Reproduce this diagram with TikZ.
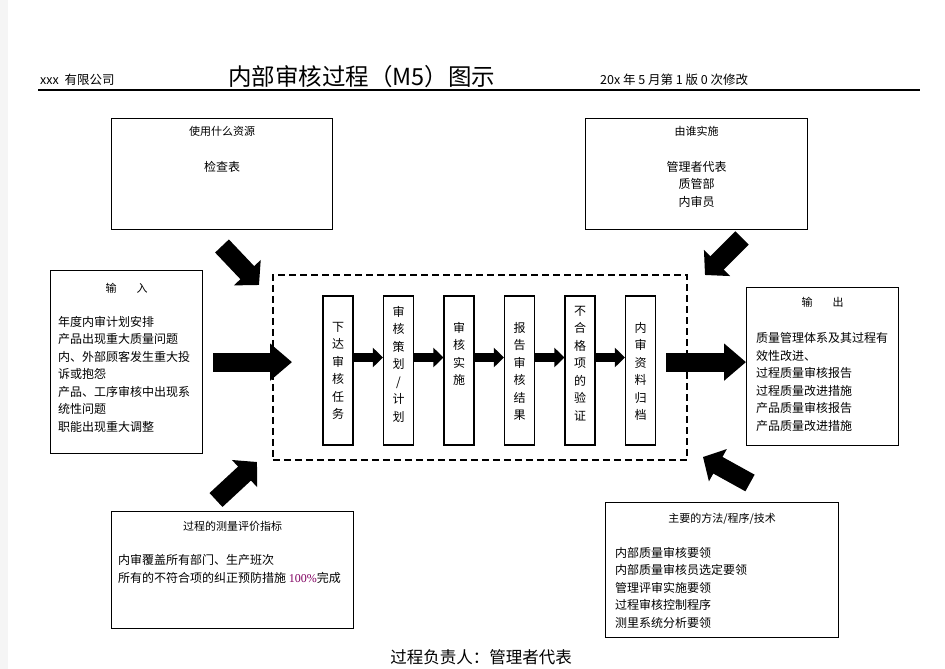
\documentclass[tikz,border=0pt]{standalone}
\usepackage{fontspec}
\setmainfont{Noto Sans CJK SC}
\newfontfamily\serifnum{Liberation Serif}
\usetikzlibrary{positioning,arrows.meta}
\definecolor{pct}{RGB}{128,0,96}
\newcommand{\bodyfont}{\fontsize{12}{17.5}\selectfont}
\newcommand{\headfont}{\fontsize{11}{13}\selectfont}

\begin{document}
\begin{tikzpicture}[x=1pt,y=-1pt,
    box/.style={draw,line width=1.2pt,inner sep=0pt,anchor=north west},
    proc/.style={draw,line width=1.2pt,inner sep=0pt,minimum width=30pt,minimum height=149pt},
    head/.style={font=\headfont,inner sep=0pt},
    lines/.style={font=\bodyfont,align=left,inner sep=0pt},
    vtext/.style={font=\bodyfont,align=center,inner sep=0pt},
    bigarrow/.style={line width=19pt,-{Triangle[length=17pt,width=36pt]}},
    flatarrow/.style={line width=19pt,-{Triangle[length=22pt,width=36pt]}},
    smallarrow/.style={line width=9pt,-{Triangle[length=10pt,width=19pt]}}]
  \useasboundingbox (0,0) rectangle (945,669);
  \fill[gray!8] (0,0) rectangle (8,669);

  % header
  \node[font=\fontsize{12.5}{14}\selectfont,inner sep=0pt,anchor=west] (company) at (40,80) {xxx\hspace{3pt} 有限公司};
  \node[font=\fontsize{23.5}{26}\selectfont,inner sep=0pt,anchor=west] (title) at (228,77) {内部审核过程（M5）图示};
  \node[font=\fontsize{12.5}{14}\selectfont,inner sep=0pt,anchor=west] (version) at (600,80) {20x 年 5 月第 1 版 0 次修改};
  \draw[line width=1.3pt] (38,90) -- (920,90);

  % boxes around
  \node[box,minimum width=221pt,minimum height=111pt] (res) at (111,118) {};
  \node[head,below=8pt of res.north] (restitle) {使用什么资源};
  \node[vtext,below=43pt of res.north] (reslines) {检查表};

  \node[box,minimum width=222pt,minimum height=111pt] (who) at (585,118) {};
  \node[head,below=8pt of who.north] (whotitle) {由谁实施};
  \node[vtext,below=43pt of who.north] (wholines) {管理者代表\\质管部\\内审员};

  \node[box,minimum width=152pt,minimum height=183pt] (in) at (50,270) {};
  \node[head,below=13pt of in.north] (intitle) {输\hspace{20pt}入};
  \node[lines,below right=46pt and 8pt of in.north west] (inlines)
    {年度内审计划安排\\产品出现重大质量问题\\内、外部顾客发生重大投\\诉或抱怨\\产品、工序审核中出现系\\统性问题\\职能出现重大调整};

  \node[box,minimum width=152pt,minimum height=158pt] (out) at (746,287) {};
  \node[head,below=10pt of out.north] (outtitle) {输\hspace{20pt}出};
  \node[lines,below right=45.5pt and 10pt of out.north west] (outlines)
    {质量管理体系及其过程有\\效性改进、\\过程质量审核报告\\过程质量改进措施\\产品质量审核报告\\产品质量改进措施};

  \node[box,minimum width=242pt,minimum height=117pt] (kpi) at (111,511) {};
  \node[head,below=10pt of kpi.north] (kpititle) {过程的测量评价指标};
  \node[lines,below right=43.5pt and 7pt of kpi.north west] (kpilines)
    {内审覆盖所有部门、生产班次\\所有的不符合项的纠正预防措施 {\color{pct}\serifnum 100\%}完成};

  \node[box,minimum width=233pt,minimum height=135pt] (meth) at (605,502) {};
  \node[head,below=10.5pt of meth.north] (methtitle) {主要的方法/程序/技术};
  \node[lines,below right=45pt and 10pt of meth.north west] (methlines)
    {内部质量审核要领\\内部质量审核员选定要领\\管理评审实施要领\\过程审核控制程序\\测里系统分析要领};

  % process
  \node[box,dashed,dash pattern=on 7pt off 4pt,line width=1.5pt,minimum width=414pt,minimum height=185pt] (frame) at (272,274) {};
  \node[proc] (p1) at (338,370.5) {};
  \node[proc] (p2) at (398.5,370.5) {};
  \node[proc] (p3) at (459,370.5) {};
  \node[proc] (p4) at (519.5,370.5) {};
  \node[proc] (p5) at (580,370.5) {};
  \node[proc] (p6) at (640.5,370.5) {};
  \node[vtext,below=26.5pt of p1.north] (t1) {下\\达\\审\\核\\任\\务};
  \node[vtext,below=10.5pt of p2.north] (t2) {审\\核\\策\\划\\/\\计\\划};
  \node[vtext,below=26.5pt of p3.north] (t3) {审\\核\\实\\施};
  \node[vtext,below=26.5pt of p4.north] (t4) {报\\告\\审\\核\\结\\果};
  \node[vtext,below=10.5pt of p5.north] (t5) {不\\合\\格\\项\\的\\验\\证};
  \node[vtext,below=26.5pt of p6.north] (t6) {内\\审\\资\\料\\归\\档};

  \foreach \a/\b in {p1/p2,p2/p3,p3/p4,p4/p5,p5/p6}
    \draw[smallarrow] ([yshift=13pt]\a.east) -- ([yshift=13pt]\b.west);

  \draw[flatarrow,shorten <=10pt,shorten >=-20pt] (in.east) -- (in.east -| frame.west);
  \draw[flatarrow,shorten <=10pt] (p6.east |- in.east) -- (out.west |- in.east);

  % slanted arrows
  \coordinate (restail) at (222,246);
  \coordinate (restip) at (259,285);
  \coordinate (whotail) at (742,238);
  \coordinate (whotip) at (705,275);
  \coordinate (kpitail) at (216,500);
  \coordinate (kpitip) at (257,462);
  \coordinate (methtail) at (750,483);
  \coordinate (methtip) at (703,457);
  \draw[bigarrow] (restail) -- (restip);
  \draw[bigarrow] (whotail) -- (whotip);
  \draw[bigarrow] (kpitail) -- (kpitip);
  \draw[bigarrow] (methtail) -- (methtip);

  % footer
  \node[font=\fontsize{16.5}{18}\selectfont,inner sep=0pt] (owner) at (481,657) {过程负责人：管理者代表};
\end{tikzpicture}
\end{document}
